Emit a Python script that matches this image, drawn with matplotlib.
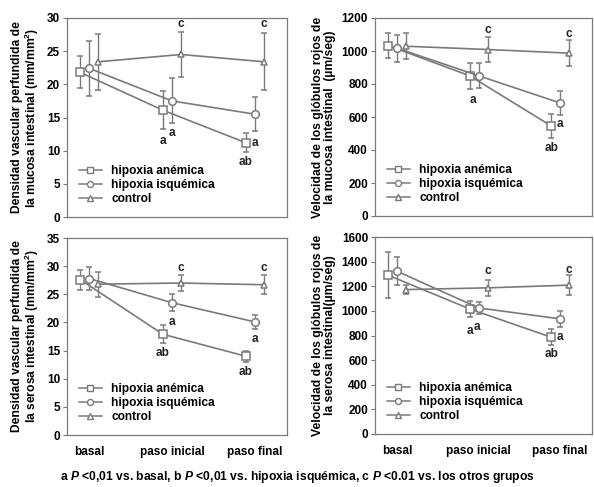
import matplotlib
matplotlib.use("Agg")
import matplotlib.pyplot as plt
from matplotlib.lines import Line2D
import numpy as np

plt.rcParams['font.family'] = ['Liberation Sans', 'DejaVu Sans']
plt.rcParams['font.weight'] = 'bold'
plt.rcParams['mathtext.fontset'] = 'custom'
plt.rcParams['mathtext.it'] = 'Liberation Sans:italic:bold'
plt.rcParams['mathtext.rm'] = 'Liberation Sans:bold'
plt.rcParams['mathtext.bf'] = 'Liberation Sans:bold'

categories = ["basal", "paso inicial", "paso final"]
series_names = ["hipoxia anémica", "hipoxia isquémica", "control"]

# Panel A: mucosa density
mucosa_dens_anemica = [21.8, 16.1, 11.2]
mucosa_dens_anemica_err = [2.4, 2.9, 1.4]
mucosa_dens_isquemica = [22.4, 17.5, 15.5]
mucosa_dens_isquemica_err = [4.1, 3.4, 2.6]
mucosa_dens_control = [23.4, 24.5, 23.4]
mucosa_dens_control_err = [4.2, 3.4, 4.3]

# Panel B: mucosa velocity
mucosa_vel_anemica = [1033, 850, 546]
mucosa_vel_anemica_err = [75, 80, 75]
mucosa_vel_isquemica = [1017, 850, 685]
mucosa_vel_isquemica_err = [82, 76, 73]
mucosa_vel_control = [1029, 1009, 987]
mucosa_vel_control_err = [80, 74, 77]

# Panel C: serosa density
serosa_dens_anemica = [27.6, 17.9, 14.0]
serosa_dens_anemica_err = [1.8, 1.6, 1.0]
serosa_dens_isquemica = [27.8, 23.5, 20.1]
serosa_dens_isquemica_err = [2.0, 1.5, 1.2]
serosa_dens_control = [26.8, 27.0, 26.7]
serosa_dens_control_err = [2.2, 1.4, 1.7]

# Panel D: serosa velocity
serosa_vel_anemica = [1290, 1016, 786]
serosa_vel_anemica_err = [187, 65, 63]
serosa_vel_isquemica = [1322, 1024, 935]
serosa_vel_isquemica_err = [112, 50, 62]
serosa_vel_control = [1173, 1187, 1209]
serosa_vel_control_err = [35, 63, 80]

gray = "#7a7a7a"
fig = plt.figure(figsize=(5.94, 4.87), dpi=100)

def px_axes(l, t, r, b):
    W, H = 594, 487
    return fig.add_axes([l / W, (H - b) / H, (r - l) / W, (b - t) / H])

markers = ["s", "o", "^"]
msizes = [5.5, 5.5, 5.0]
offsets = [-0.11, 0.0, 0.11]

def panel(ax, data, errs, ylim, yticks, ylabel, show_x, annots):
    x = np.arange(len(categories))
    handles = []
    for i, (d, e) in enumerate(zip(data, errs)):
        ax.errorbar(x + offsets[i], d, yerr=e, color=gray, lw=1.2,
                    marker=markers[i], ms=msizes[i], mfc="white", mec=gray,
                    mew=1.1, capsize=2.5, elinewidth=1.0, capthick=1.0)
        handles.append(Line2D([], [], color=gray, lw=1.1, marker=markers[i],
                              ms=msizes[i] - 1.2, mfc="white", mec=gray, mew=1.0,
                              label=series_names[i]))
    ax.set_xlim(-0.27, 2.39)
    ax.set_ylim(*ylim)
    ax.set_yticks(yticks)
    ax.tick_params(axis='y', labelsize=8.5, length=3, color=gray, width=0.8, pad=2)
    for sp in ax.spines.values():
        sp.set_color(gray)
        sp.set_linewidth(0.9)
    if show_x:
        ax.set_xticks(x)
        ax.set_xticklabels(categories, fontsize=8.5, fontweight='bold')
        ax.tick_params(axis='x', length=0, pad=8)
    else:
        ax.set_xticks([])
    ax.set_ylabel(ylabel, fontsize=8.7, fontweight='bold', labelpad=4, linespacing=1.0)
    for (xi, yi, txt, ha) in annots:
        ax.text(xi, yi, txt, fontsize=8.5, fontweight='bold', ha=ha, va='center', color='#222222')
    ax.legend(handles=handles, loc='lower left', bbox_to_anchor=(0.0, 0.0), frameon=False,
              handlelength=1.9, handletextpad=0.8,
              labelspacing=0.15, borderaxespad=0.6, prop={'weight': 'bold', 'size': 8.6})

axA = px_axes(67, 18, 287, 217)
panel(axA,
      [mucosa_dens_anemica, mucosa_dens_isquemica, mucosa_dens_control],
      [mucosa_dens_anemica_err, mucosa_dens_isquemica_err, mucosa_dens_control_err],
      (0, 30), np.arange(0, 31, 5),
      "Densidad vascular perfundida de\nla mucosa intestinal (mm/mm$^\\mathbf{2}$)", False,
      [(1.11, 29.1, "c", 'center'), (2.11, 29.1, "c", 'center'),
       (0.89, 11.5, "a", 'center'), (1.0, 12.6, "a", 'center'),
       (2.0, 11.2, "a", 'center'), (1.89, 8.3, "ab", 'center')])

axB = px_axes(375, 18, 592, 216)
panel(axB,
      [mucosa_vel_anemica, mucosa_vel_isquemica, mucosa_vel_control],
      [mucosa_vel_anemica_err, mucosa_vel_isquemica_err, mucosa_vel_control_err],
      (0, 1200), np.arange(0, 1201, 200),
      "Velocidad de los glóbulos rojos de\nla mucosa intestinal  (µm/seg)", False,
      [(1.11, 1130, "c", 'center'), (2.11, 1105, "c", 'center'),
       (0.93, 705, "a", 'center'),
       (2.0, 555, "a", 'center'), (1.9, 415, "ab", 'center')])

axC = px_axes(67, 238, 287, 435)
panel(axC,
      [serosa_dens_anemica, serosa_dens_isquemica, serosa_dens_control],
      [serosa_dens_anemica_err, serosa_dens_isquemica_err, serosa_dens_control_err],
      (0, 35), np.arange(0, 36, 5),
      "Densidad vascular perfundida de\nla serosa intestinal (mm/mm$^\\mathbf{2}$)", True,
      [(1.11, 29.7, "c", 'center'), (2.11, 29.7, "c", 'center'),
       (1.0, 20.0, "a", 'center'), (0.89, 14.5, "ab", 'center'),
       (2.0, 17.0, "a", 'center'), (1.89, 11.2, "ab", 'center')])

axD = px_axes(375, 237, 592, 434)
panel(axD,
      [serosa_vel_anemica, serosa_vel_isquemica, serosa_vel_control],
      [serosa_vel_anemica_err, serosa_vel_isquemica_err, serosa_vel_control_err],
      (0, 1600), np.arange(0, 1601, 200),
      "Velocidad de los glóbulos rojos de\nla serosa intestinal(µm/seg)", True,
      [(1.11, 1320, "c", 'center'), (2.11, 1330, "c", 'center'),
       (0.89, 840, "a", 'center'), (0.98, 870, "a", 'center'),
       (2.0, 786, "a", 'center'), (1.9, 650, "ab", 'center')])

fig.text(0.5, 1 - 477 / 487,
         r"a $\it{P}$ <0,01 vs. basal, b $\it{P}$ <0,01 vs. hipoxia isquémica, c $\it{P}$ <0.01 vs. los otros grupos",
         ha='center', va='center', fontsize=8.7, fontweight='bold')

fig.savefig("out.png", dpi=100)
